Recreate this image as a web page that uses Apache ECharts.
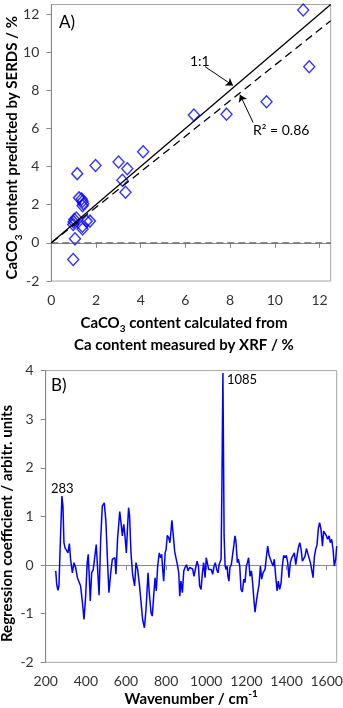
<!DOCTYPE html>
<html>
<head>
<meta charset="utf-8">
<script src="https://cdn.jsdelivr.net/npm/echarts@6/dist/echarts.min.js"></script>
<style>html,body{margin:0;padding:0;background:#fff}#c{width:343px;height:708px}</style>
</head>
<body>
<div id="c"></div>
<script>
// ---------- Panel A data ----------
const xrfX   = [11.27, 11.54, 9.63, 7.84, 6.38, 4.11, 1.98, 3.01, 3.40, 3.18, 3.32, 1.16, 1.24, 1.36, 1.40, 1.43, 1.40, 1.03, 1.12, 0.98, 1.39, 1.40, 1.58, 1.73, 1.06, 0.98, 1.00];
const serdsY = [12.21, 9.24, 7.40, 6.75, 6.70, 4.78, 4.06, 4.24, 3.89, 3.28, 2.65, 3.63, 2.36, 2.30, 2.18, 2.05, 1.95, 1.22, 1.30, 0.96, 0.87, 0.73, 1.14, 1.14, 0.21, -0.87, 1.10];
const oneToOne = [[0, 0], [12.5, 12.5]];
const fitLine  = [[0, 0], [12.5, 11.65]];
const zeroLine = [[0, 0], [12.5, 0]];
const arrow11  = [[6.88, 9.24], [8.13, 8.25]];
const arrowR2  = [[9.03, 6.31], [8.44, 7.77]];
const xTicksA = [0, 2, 4, 6, 8, 10, 12];
const yTicksA = [-2, 0, 2, 4, 6, 8, 10, 12];

// ---------- Panel B data ----------
const wavenumber = [250,255,261,266,275,281,286,291,296,305,311,318,324,333,341,349,358,366,374,383,391,399,407,412,417,422,429,437,444,452,457,466,474,482,487,492,500,507,515,524,532,540,545,550,558,569,577,582,589,595,602,608,613,618,625,633,638,643,650,658,667,675,683,692,700,710,716,725,731,738,745,751,758,766,773,778,783,788,795,800,806,813,819,829,836,843,849,856,863,868,874,881,888,894,902,909,917,926,932,939,946,954,961,967,974,981,987,994,1000,1005,1012,1019,1025,1032,1039,1045,1052,1059,1064,1069,1074,1078,1083,1089,1094,1099,1104,1108,1113,1118,1125,1132,1138,1143,1148,1155,1160,1167,1173,1180,1187,1193,1200,1205,1211,1218,1225,1231,1238,1243,1250,1256,1263,1270,1276,1283,1289,1293,1300,1306,1313,1319,1326,1333,1339,1346,1353,1359,1366,1373,1379,1386,1393,1399,1406,1412,1419,1426,1432,1439,1446,1452,1459,1466,1472,1479,1486,1492,1499,1505,1512,1519,1525,1532,1539,1545,1552,1559,1565,1572,1579,1585,1592,1599,1605,1612,1618,1625,1632,1638,1645,1650];
const coefficient = [-0.12,-0.40,-0.52,-0.43,0.73,1.42,1.21,0.46,0.36,0.34,0.25,0.44,0.12,-0.16,0.05,-0.05,-0.26,-0.23,-0.43,-0.77,-1.12,-0.64,0.05,0.22,-0.23,-0.74,-0.16,-0.09,-0.05,0.42,0.05,-0.62,0.53,1.21,1.18,1.28,0.90,0.18,-0.57,-0.16,0.12,0.08,0.15,-0.19,0.53,1.10,0.80,0.60,0.84,0.60,0.25,0.80,1.18,1.01,0.25,-0.19,-0.23,-0.43,0.05,-0.09,-0.40,-0.43,-1.12,-1.29,-0.91,-0.16,-0.57,-0.98,-1.05,-0.64,-0.26,-0.53,-0.02,0.25,0.15,0.22,-0.09,-0.33,0.25,0.32,0.61,0.56,0.46,0.92,0.60,0.27,0.24,0.01,-0.16,-0.64,-0.33,-0.57,-0.12,-0.05,0.01,-0.12,-0.05,-0.02,-0.08,-0.23,-0.19,0.08,-0.02,-0.43,-0.50,-0.16,0.05,-0.26,0.15,0.18,-0.09,-0.12,-0.09,-0.19,-0.02,0.05,-0.09,-0.16,0.01,-0.02,0.12,1.6,3.95,0.6,-0.02,-0.09,-0.02,-0.23,-0.33,-0.05,0.01,0.05,0.42,0.60,0.49,0.05,0.12,-0.02,-0.50,-0.55,-0.29,-0.36,-0.02,0.05,0.15,-0.23,-0.12,-0.36,-0.74,-0.97,-0.74,-0.57,-0.40,-0.02,-0.29,-0.16,-0.12,-0.09,0.18,0.39,0.20,0.24,0.05,-0.02,0.12,-0.23,-0.53,-0.33,-0.50,-0.36,-0.02,0.20,0.15,0.20,0.05,-0.26,0.05,0.15,0.12,0.25,0.01,0.18,0.36,0.46,0.34,0.08,0.08,0.18,0.34,0.25,0.29,0.05,-0.09,-0.26,0.18,0.32,0.42,0.77,0.87,0.73,0.39,0.70,0.73,0.60,0.53,0.60,0.46,0.53,0.32,-0.02,0.12,0.39];
const xTicksB = [200, 400, 600, 800, 1000, 1200, 1400, 1600];
const yTicksB = [-2, -1, 0, 1, 2, 3, 4];

// ---------- styling ----------
const FONT = 'Lato';
const axisGray = '#888888';
const labelColor = '#333333';
const richTitle = {
  b: {fontFamily: FONT, fontSize: 15, fontWeight: 'bold', color: '#000', lineHeight: 22},
  s: {fontFamily: FONT, fontSize: 10, fontWeight: 'bold', color: '#000', lineHeight: 10, verticalAlign: 'bottom'},
  p: {fontFamily: FONT, fontSize: 10, fontWeight: 'bold', color: '#000', lineHeight: 10, verticalAlign: 'top'}
};

function valAxis(gridIndex, min, max, ticks, extra) {
  return Object.assign({
    type: 'value', gridIndex, min, max,
    axisLine: {show: true, lineStyle: {color: axisGray, width: 1}},
    axisTick: {show: true, length: 5, lineStyle: {color: axisGray}, customValues: ticks},
    axisLabel: {fontFamily: FONT, fontSize: 14, color: labelColor, margin: 12, customValues: ticks,
                formatter: v => String(v), hideOverlap: false},
    splitLine: {show: false},
    nameLocation: 'middle',
    nameMoveOverlap: false,
    nameTextStyle: {rich: richTitle}
  }, extra || {});
}

const chart = echarts.init(document.getElementById('c'), null, {renderer: 'canvas'});
chart.setOption({
  animation: false,
  backgroundColor: '#fff',
  grid: [
    {left: 51.3, top: 4.5, width: 279.4, height: 276.5, show: true, borderColor: '#a6a6a6', borderWidth: 1,
     containLabel: false, outerBoundsMode: 'none'},
    {left: 45.7, top: 370.6, width: 291, height: 291.7, show: true, borderColor: '#a6a6a6', borderWidth: 1,
     containLabel: false, outerBoundsMode: 'none'}
  ],
  xAxis: [
    valAxis(0, 0, 12.5, xTicksA, {
      name: '{b|CaCO}{s|3}{b| content calculated from}\n{b|Ca content measured by XRF / %}',
      nameGap: 31,
      nameTextStyle: {rich: richTitle, padding: [0, 14, 0, 0]}
    }),
    valAxis(1, 200, 1650, xTicksB, {
      name: '{b|Wavenumber / cm}{p|-1}',
      nameGap: 26,
      nameTextStyle: {rich: richTitle}
    })
  ],
  yAxis: [
    valAxis(0, -2, 12.5, yTicksA, {
      name: '{b|CaCO}{s|3}{b| content predicted by SERDS / %}',
      nameGap: 28,
      nameTextStyle: {rich: richTitle, padding: [0, 10, 0, 0]}
    }),
    valAxis(1, -2, 4, yTicksB, {
      name: '{b|Regression coefficient / arbitr. units}',
      nameGap: 28,
      nameTextStyle: {rich: richTitle, padding: [0, 14, 0, 0]}
    })
  ],
  series: [
    {
      type: 'line', xAxisIndex: 0, yAxisIndex: 0, data: zeroLine, symbol: 'none', silent: true,
      lineStyle: {color: '#666', width: 1.3, type: [7, 4]}
    },
    {
      type: 'line', xAxisIndex: 0, yAxisIndex: 0, data: oneToOne, symbol: 'none', silent: true,
      lineStyle: {color: '#000', width: 1.3},
      markLine: {
        silent: true, symbol: ['none', 'arrow'], symbolSize: 7, animation: false,
        label: {show: false},
        lineStyle: {color: '#000', width: 1, type: 'solid'},
        data: [
          [{coord: arrow11[0]}, {coord: arrow11[1]}],
          [{coord: arrowR2[0]}, {coord: arrowR2[1]}]
        ]
      }
    },
    {
      type: 'line', xAxisIndex: 0, yAxisIndex: 0, data: fitLine, symbol: 'none', silent: true,
      lineStyle: {color: '#000', width: 1.3, type: [8, 5]}
    },
    {
      type: 'scatter', xAxisIndex: 0, yAxisIndex: 0,
      data: xrfX.map((x, i) => [x, serdsY[i]]),
      symbol: 'diamond', symbolSize: [11, 12],
      itemStyle: {color: 'rgba(0,0,0,0)', borderColor: '#0000ff', borderWidth: 1.4}
    },
    {
      type: 'line', xAxisIndex: 1, yAxisIndex: 1,
      data: wavenumber.map((w, i) => [w, coefficient[i]]),
      symbol: 'none', lineStyle: {color: '#0000ff', width: 1.5}
    }
  ],
  graphic: [
    {type: 'text', x: 59, y: 14, style: {text: 'A)', fontFamily: FONT, fontSize: 17, fill: '#000'}},
    {type: 'text', x: 190, y: 54, style: {text: '1:1', fontFamily: FONT, fontSize: 14, fill: '#000'}},
    {type: 'text', x: 253, y: 123, style: {text: 'R² = 0.86', fontFamily: FONT, fontSize: 14, fill: '#000'}},
    {type: 'text', x: 51, y: 377, style: {text: 'B)', fontFamily: FONT, fontSize: 17, fill: '#000'}},
    {type: 'text', x: 51, y: 482, style: {text: '283', fontFamily: FONT, fontSize: 13, fill: '#000'}},
    {type: 'text', x: 227, y: 373, style: {text: '1085', fontFamily: FONT, fontSize: 13, fill: '#000'}}
  ]
});
</script>
</body>
</html>
